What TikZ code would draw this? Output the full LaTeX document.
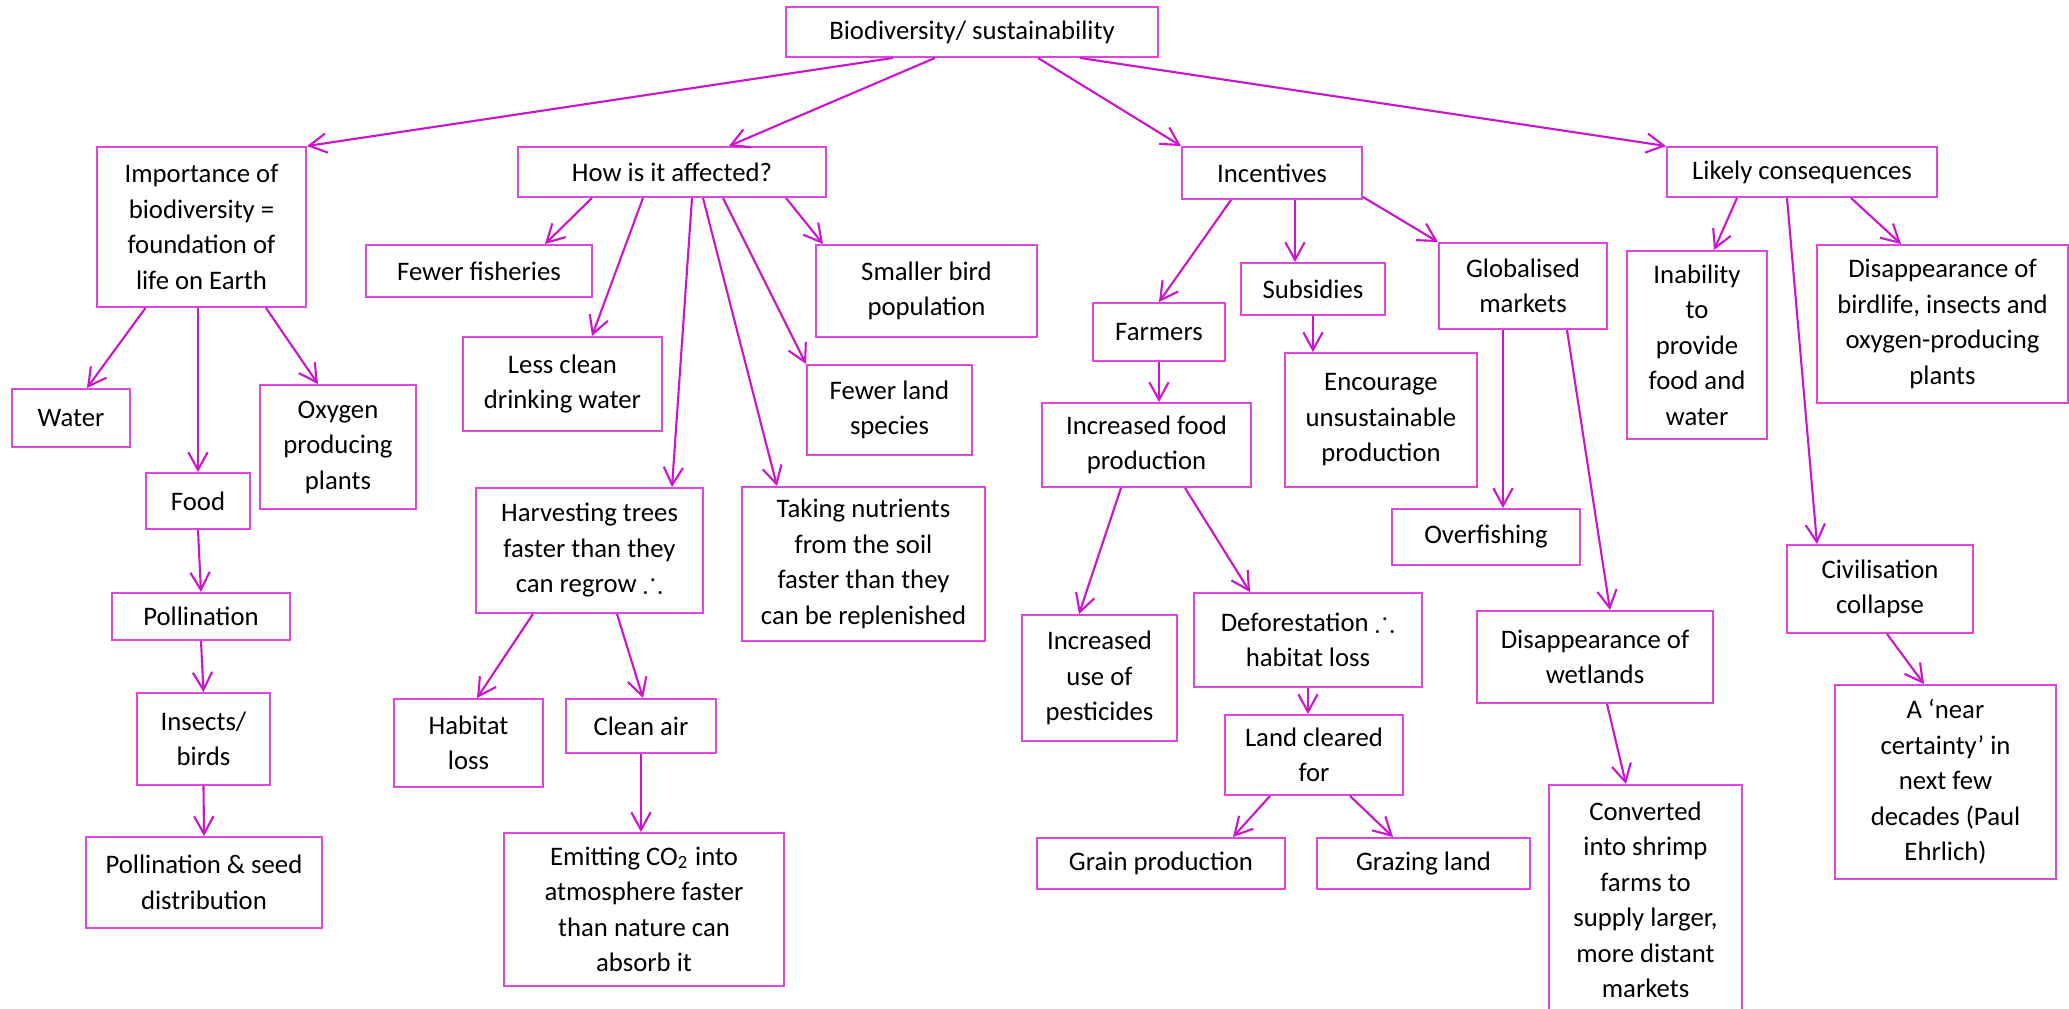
\documentclass[tikz,border=0pt]{standalone}
\usepackage{fontspec}
\usepackage{amssymb}
\setmainfont{Carlito}
\usetikzlibrary{arrows.meta,calc}
\definecolor{boxpink}{RGB}{222,70,222}
\definecolor{arrpink}{RGB}{204,20,204}

\begin{document}
\begin{tikzpicture}[x=0.01cm,y=-0.01cm,
  box/.style 2 args={draw=boxpink, line width=0.55pt, inner sep=0pt, align=center,
    minimum width=#1*0.01cm, minimum height=#2*0.01cm,
    font=\fontsize{7.6}{10.1}\selectfont},
  arr/.style={draw=arrpink, line width=0.6pt, -{Straight Barb[length=5pt,width=5.5pt]}}]
\useasboundingbox (0,0) rectangle (2069,1009);

% main heads
\node[box={372}{50}] (top) at (972,32) {Biodiversity/ sustainability};
\node[box={209}{160}] (imp) at (201.5,227) {Importance of\\biodiversity =\\foundation of\\life on Earth};
\node[box={308}{50}] (how) at (672,172) {How is it affected?};
\node[box={180}{52}] (inc) at (1272,173) {Incentives};
\node[box={270}{50}] (lik) at (1802,172) {Likely consequences};

% importance
\node[box={118}{58}] (water) at (71,418) {Water};
\node[box={104}{56}] (food) at (198,501) {Food};
\node[box={156}{124}] (oxy) at (338,447) {Oxygen\\producing\\plants};
\node[box={178}{47}] (poll) at (201,616.5) {Pollination};
\node[box={133}{92}] (ins) at (203.5,739) {Insects/\\birds};
\node[box={236}{91}] (seed) at (204,882.5) {Pollination \& seed\\distribution};

% how is it affected
\node[box={226}{52}] (fish) at (479,271) {Fewer fisheries};
\node[box={199}{94}] (drink) at (562.5,384) {Less clean\\drinking water};
\node[box={227}{125}] (harv) at (589.5,550.5) {Harvesting trees\\faster than they\\can regrow $\therefore$};
\node[box={221}{92}] (bird) at (926.5,291) {Smaller bird\\population};
\node[box={165}{90}] (land) at (889.5,410) {Fewer land\\species};
\node[box={243}{154}] (nutr) at (863.5,564) {Taking nutrients\\from the soil\\faster than they\\can be replenished};
\node[box={149}{88}] (hab) at (468.5,743) {Habitat\\loss};
\node[box={150}{54}] (air) at (641,726) {Clean air};
\node[box={280}{153}] (co2) at (644,909.5) {Emitting CO\textsubscript{2} into\\atmosphere faster\\than nature can\\absorb it};

% incentives
\node[box={132}{58}] (farm) at (1159,332) {Farmers};
\node[box={144}{52}] (subs) at (1313,289) {Subsidies};
\node[box={168}{86}] (glob) at (1523,286) {Globalised\\markets};
\node[box={192}{134}] (enc) at (1381,420) {Encourage\\unsustainable\\production};
\node[box={209}{84}] (incr) at (1146.5,445) {Increased food\\production};
\node[box={155}{126}] (pest) at (1099.5,678) {Increased\\use of\\pesticides};
\node[box={228}{94}] (defo) at (1308,640) {Deforestation $\therefore$\\habitat loss};
\node[box={178}{80}] (clear) at (1314,755) {Land cleared\\for};
\node[box={248}{51}] (grain) at (1161,863.5) {Grain production};
\node[box={213}{51}] (graz) at (1423.5,863.5) {Grazing land};
\node[box={188}{56}] (over) at (1486,537) {Overfishing};
\node[box={236}{92}] (wet) at (1595,657) {Disappearance of\\wetlands};
\node[box={193}{230}] (conv) at (1645.5,900) {Converted\\into shrimp\\farms to\\supply larger,\\more distant\\markets};

% consequences
\node[box={140}{188}] (inab) at (1697,345) {Inability\\to\\provide\\food and\\water};
\node[box={251}{158}] (dbird) at (1942.5,324) {Disappearance of\\birdlife, insects and\\oxygen-producing\\plants};
\node[box={186}{88}] (civ) at (1880,589) {Civilisation\\collapse};
\node[box={221}{194}] (near) at (1945.5,782) {A `near\\certainty' in\\next few\\decades (Paul\\Ehrlich)};

% arrows
\draw[arr] ($(top.south)+(-79,0)$) -- (imp.north east);
\draw[arr] ($(top.south)+(-37,0)$) -- ($(how.north)+(57,0)$);
\draw[arr] ($(top.south)+(66,0)$) -- (inc.north west);
\draw[arr] ($(top.south)+(108,0)$) -- (lik.north west);

\draw[arr] ($(imp.south)+(-56,0)$) -- ($(water.north)+(16,0)$);
\draw[arr] (food.north |- imp.south) -- (food.north);
\draw[arr] ($(imp.south)+(64.5,0)$) -- ($(oxy.north)+(-20,0)$);
\draw[arr] (food.south) -- (poll.north);
\draw[arr] (poll.south) -- (ins.north);
\draw[arr] (ins.south) -- (seed.north);

\draw[arr] ($(how.south)+(-80,0)$) -- ($(fish.north)+(66,0)$);
\draw[arr] ($(how.south)+(-29,0)$) -- ($(drink.north)+(29.5,0)$);
\draw[arr] ($(how.south)+(20,0)$) -- ($(harv.north)+(82.5,0)$);
\draw[arr] ($(how.south)+(31,0)$) -- ($(nutr.north)+(-86.5,0)$);
\draw[arr] ($(how.south)+(51,0)$) -- (land.north west);
\draw[arr] ($(how.south)+(114,0)$) -- ($(bird.north west)+(8,0)$);
\draw[arr] ($(harv.south)+(-56.5,0)$) -- ($(hab.north)+(8.5,0)$);
\draw[arr] ($(harv.south)+(27.5,0)$) -- ($(air.north)+(2,0)$);
\draw[arr] (air.south) -- (air.south |- co2.north);

\draw[arr] ($(inc.south)+(-41,0)$) -- (farm.north);
\draw[arr] ($(inc.south)+(23,0)$) -- ($(subs.north)+(-18,0)$);
\draw[arr] ($(inc.south east)+(0,-3)$) -- (glob.north west);
\draw[arr] (farm.south) -- (farm.south |- incr.north);
\draw[arr] (subs.south) -- (subs.south |- enc.north);
\draw[arr] ($(glob.south)+(-20,0)$) -- ($(over.north)+(17,0)$);
\draw[arr] ($(glob.south)+(44,0)$) -- ($(wet.north)+(15,0)$);
\draw[arr] ($(incr.south)+(-25.5,0)$) -- ($(pest.north)+(-20.5,0)$);
\draw[arr] ($(incr.south)+(38.5,0)$) -- ($(defo.north)+(-58,0)$);
\draw[arr] (defo.south) -- (defo.south |- clear.north);
\draw[arr] ($(clear.south)+(-44,0)$) -- ($(grain.north)+(72,0)$);
\draw[arr] ($(clear.south)+(36,0)$) -- ($(graz.north)+(-30.5,0)$);
\draw[arr] ($(wet.south)+(12,0)$) -- ($(conv.north)+(-19.5,0)$);

\draw[arr] ($(lik.south)+(-65,0)$) -- ($(inab.north)+(17,0)$);
\draw[arr] ($(lik.south)+(-15,0)$) -- ($(civ.north)+(-63,0)$);
\draw[arr] ($(lik.south)+(49,0)$) -- ($(dbird.north)+(-41.5,0)$);
\draw[arr] ($(civ.south)+(7,0)$) -- ($(near.north)+(-21.5,0)$);
\end{tikzpicture}
\end{document}
